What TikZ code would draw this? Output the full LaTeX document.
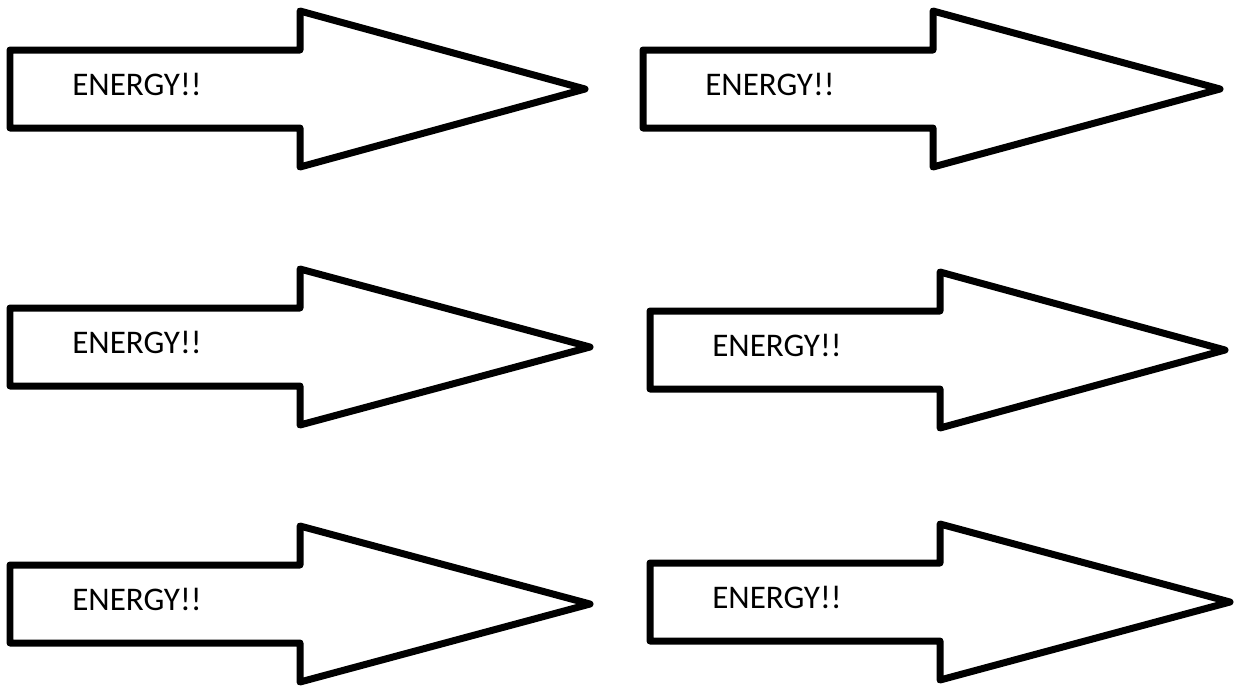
\documentclass[tikz,border=0pt]{standalone}
\usepackage{fontspec}
\setmainfont{Carlito}
\usepackage{tikz}

\tikzset{
  energyarrow/.style={draw=black, line width=0.14cm, line join=round, fill=white},
  energytext/.style={anchor=base west, inner sep=0pt, font=\fontsize{18.8}{22}\selectfont}
}

\begin{document}
\begin{tikzpicture}[x=0.02cm, y=-0.02cm]
\useasboundingbox (0,0) rectangle (1236,694);
\fill[white] (0,0) rectangle (1236,694);

% arrows: name / left end / middle of shaft / tip
\foreach \name/\lx/\my/\tx in {topleft/10/89/585, topright/643/89/1220,
                               midleft/10/347/590, midright/650/350/1225,
                               botleft/10/604/590, botright/650/602/1230}
{
  \draw[energyarrow] (\lx,\my-39) -- (\lx+290,\my-39) -- (\lx+290,\my-78)
        -- (\tx,\my) -- (\lx+290,\my+78) -- (\lx+290,\my+39)
        -- (\lx,\my+39) -- cycle;
  \node[energytext] (\name) at (\lx+62,\my+6) {ENERGY!!};
}
\end{tikzpicture}
\end{document}
